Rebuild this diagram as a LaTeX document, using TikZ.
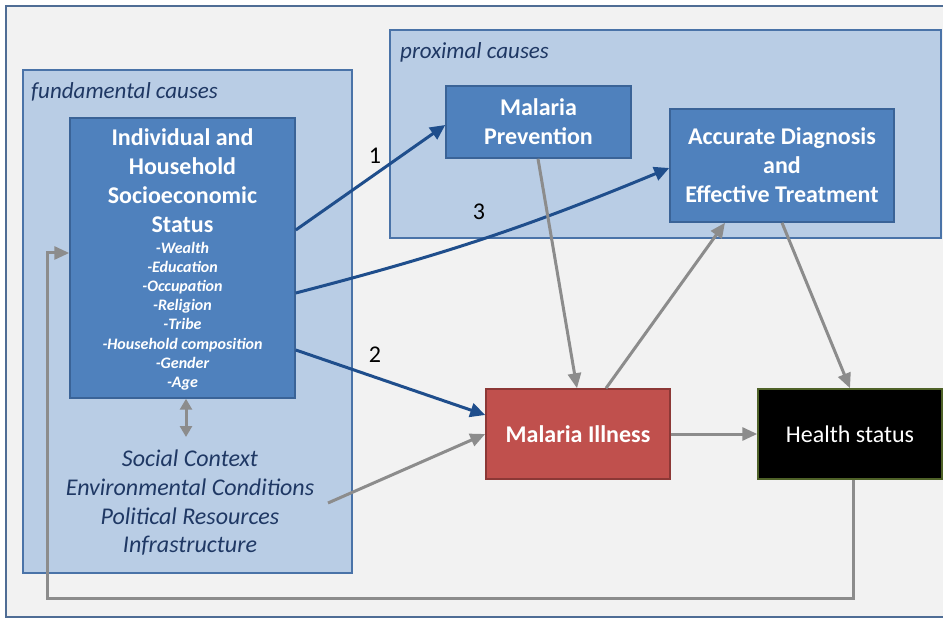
\documentclass[tikz,border=0pt]{standalone}
\usepackage{fontspec}
\setmainfont{Carlito}
\usetikzlibrary{arrows.meta}
\definecolor{framebg}{HTML}{F2F2F2}
\definecolor{framedraw}{HTML}{4F6D95}
\definecolor{causefill}{HTML}{B9CDE5}
\definecolor{causedraw}{HTML}{4A73A8}
\definecolor{boxfill}{HTML}{4F81BD}
\definecolor{boxdraw}{HTML}{3A6397}
\definecolor{illfill}{HTML}{C0504D}
\definecolor{illdraw}{HTML}{8C3836}
\definecolor{hsdraw}{HTML}{4F6228}
\definecolor{bluearr}{HTML}{1F4E8C}
\definecolor{grayarr}{HTML}{8C8C8C}
\definecolor{navytext}{HTML}{1F3864}
\tikzset{
  causebox/.style={draw=causedraw, fill=causefill, line width=1.5pt},
  bluebox/.style={draw=boxdraw, fill=boxfill, line width=1.5pt, text=white,
    font=\fontsize{24}{29}\selectfont\bfseries, align=center, inner sep=0pt},
  illbox/.style={draw=illdraw, fill=illfill, line width=1.5pt, text=white,
    font=\fontsize{24}{29}\selectfont\bfseries, align=center, inner sep=0pt},
  hsbox/.style={draw=hsdraw, fill=black, line width=1.5pt, text=white,
    font=\fontsize{24}{29}\selectfont, align=center, inner sep=0pt},
  grouplabel/.style={text=navytext, font=\fontsize{23}{28}\selectfont\itshape, anchor=west, inner sep=0pt},
  titletext/.style={text=white, font=\fontsize{24}{29}\selectfont\bfseries, align=center, inner sep=0pt},
  itemtext/.style={text=white, font=\fontsize{16}{19.2}\selectfont\bfseries\itshape, align=center, inner sep=0pt},
  ctxtext/.style={text=navytext, font=\fontsize{24}{28.7}\selectfont\itshape, align=center, inner sep=0pt},
  numlabel/.style={text=black, font=\fontsize{24}{28}\selectfont, inner sep=0pt},
  bluelink/.style={draw=bluearr, line width=3pt, -{Triangle[length=15pt,width=14pt]}},
  graylink/.style={draw=grayarr, line width=3pt, -{Triangle[length=15pt,width=13pt]}},
}
\begin{document}
\begin{tikzpicture}[x=1pt,y=-1pt]
\useasboundingbox (0,0) rectangle (943,620);
\fill[white] (0,0) rectangle (943,620);
% outer frame
\draw[fill=framebg, draw=framedraw, line width=1.5pt] (6,6) rectangle (950,617);
% group boxes
\draw[causebox] (23,70) rectangle (352,573);
\draw[causebox] (390,30) rectangle (941,238);
\node[grouplabel] (fundlab) at (31,92) {fundamental causes};
\node[grouplabel] (proxlab) at (400,52) {proximal causes};
% main boxes
\node[bluebox, minimum width=225pt, minimum height=280pt] (ses) at (182.5,258) {};
\node[titletext] (sestitle) at (182.5,181) {Individual and\\Household\\Socioeconomic\\Status};
\node[itemtext] (sesitems) at (182.5,316) {-Wealth\\-Education\\-Occupation\\-Religion\\-Tribe\\-Household composition\\-Gender\\-Age};
\node[bluebox, minimum width=185pt, minimum height=72pt] (prev) at (538.5,122) {Malaria\\Prevention};
\node[bluebox, minimum width=224pt, minimum height=113pt] (diag) at (782,165.5) {Accurate Diagnosis\\and\\Effective Treatment};
\node[illbox, minimum width=184pt, minimum height=90pt] (ill) at (578,434) {Malaria Illness};
\node[hsbox, minimum width=184pt, minimum height=90pt] (hs) at (850,434) {Health status};
\node[ctxtext] (ctx) at (190,503) {Social Context\\Environmental Conditions\\Political Resources\\Infrastructure};
\coordinate (envend) at (328,503);
\coordinate (ctxtop) at (186,437);
\coordinate (fbcorner) at (47,598);
% number labels
\node[numlabel] (n1) at (375,156) {1};
\node[numlabel] (n3) at (479,212) {3};
\node[numlabel] (n2) at (375,355) {2};
% blue links
\draw[bluelink] ([yshift=28pt]ses.east) -- ([yshift=-3pt]prev.west);
\draw[bluelink] ([yshift=-35pt]ses.east) to[bend right=4] ([yshift=-2.5pt]diag.west);
\draw[bluelink] ([yshift=-92pt]ses.east) -- ([yshift=19pt]ill.west);
% gray links
\draw[graylink] ([xshift=-0.5pt]prev.south) -- ([xshift=-1pt]ill.north);
\draw[graylink] ([xshift=28pt]ill.north) -- ([xshift=-57pt]diag.south);
\draw[graylink] ([xshift=0pt]diag.south) -- ([xshift=0pt]hs.north);
\draw[graylink] (ill.east) -- (hs.west);
\draw[graylink] (envend) -- (ill.west);
\draw[draw=grayarr, line width=3pt, {Triangle[length=11pt,width=12pt]}-{Triangle[length=11pt,width=12pt]}] ([xshift=3.5pt]ses.south) -- (ctxtop);
\draw[graylink] ([xshift=3pt]hs.south) |- (fbcorner) |- ([yshift=5pt]ses.west);
\end{tikzpicture}
\end{document}
